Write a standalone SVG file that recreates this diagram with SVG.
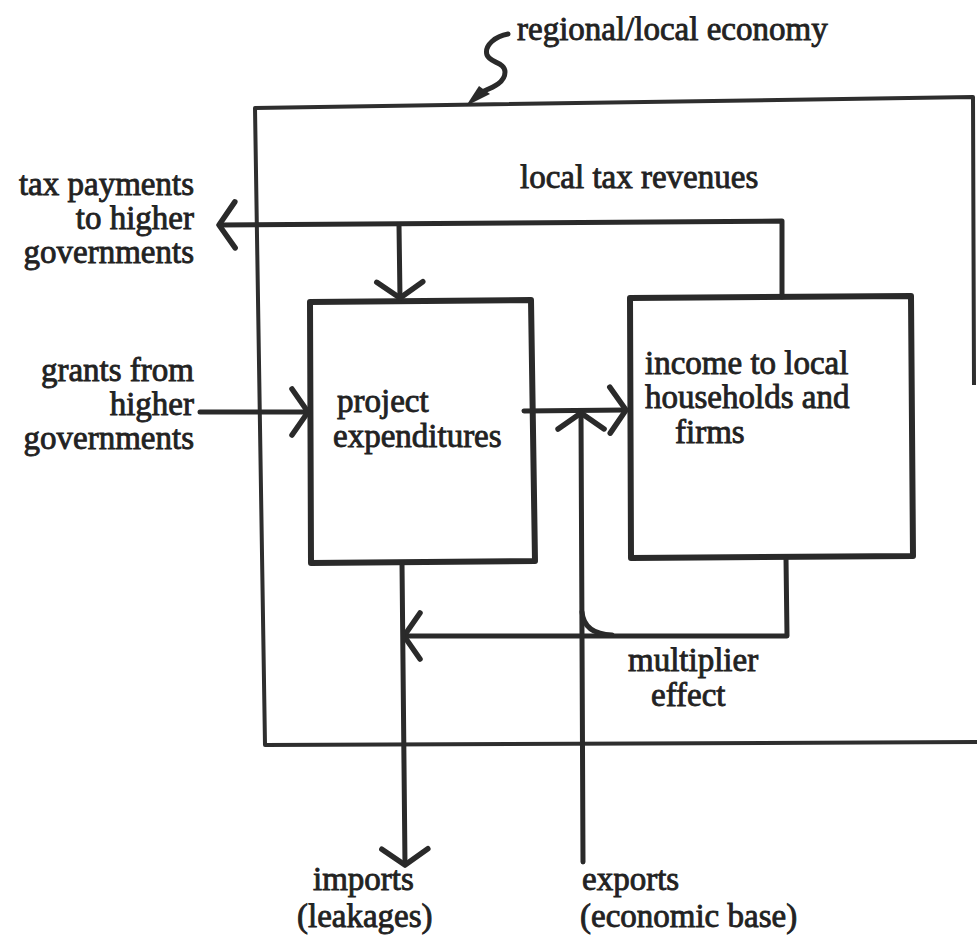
<svg xmlns="http://www.w3.org/2000/svg" width="977" height="947" viewBox="0 0 977 947">
  <style>
    .lbl { font-family: "Liberation Serif", "Times New Roman", serif; font-size: 33px; fill: #222222; stroke: #222222; stroke-width: 0.85px; }
    .end { text-anchor: end; }
    .box { fill: none; stroke: #2a2a2a; stroke-width: 6; stroke-linejoin: round; }
    .wire { fill: none; stroke: #2a2a2a; stroke-width: 5; stroke-linecap: round; stroke-linejoin: round; }
    .frame { fill: none; stroke: #2e2e2e; stroke-width: 4; stroke-linejoin: round; }
  </style>
  <defs>
    <marker id="chev" markerUnits="userSpaceOnUse" viewBox="-22 -28 26 56" refX="0" refY="0" markerWidth="26" markerHeight="56" orient="auto" overflow="visible">
      <path d="M-16,-23 L0,0 L-16,23" fill="none" stroke="#2a2a2a" stroke-width="5.5" stroke-linecap="round" stroke-linejoin="round"/>
    </marker>
  </defs>

  <rect width="977" height="947" fill="#ffffff"/>

  <!-- regional/local economy boundary -->
  <g id="economy">
    <path class="frame" d="M977,742 L265,745 L255,108 L973,97 L974,385"/>
    <path d="M466,106 L479,86 L490,94 Z" fill="#2a2a2a"/>
    <path class="wire" stroke-width="4" d="M508,34 C496,36 484,45 487,55 C490,63 505,62 505,72 C505,82 494,87 484,91"/>
    <text class="lbl" x="517" y="40">regional/local economy</text>
  </g>

  <!-- project expenditures -->
  <g id="project">
    <polygon class="box" points="310,302 531,300 535,561 311,563"/>
    <text class="lbl" x="337" y="412">project</text>
    <text class="lbl" x="333" y="447">expenditures</text>
  </g>

  <!-- income to local households and firms -->
  <g id="income">
    <polygon class="box" points="630,298 911,296 913,556 631,558"/>
    <text class="lbl" x="645" y="374">income to local</text>
    <text class="lbl" x="645" y="408">households and</text>
    <text class="lbl" x="675" y="443">firms</text>
  </g>

  <!-- external flows -->
  <g id="tax-payments">
    <text class="lbl end" x="194" y="195">tax payments</text>
    <text class="lbl end" x="194" y="229">to higher</text>
    <text class="lbl end" x="194" y="263">governments</text>
  </g>
  <g id="grants">
    <text class="lbl end" x="194" y="381">grants from</text>
    <text class="lbl end" x="194" y="415">higher</text>
    <text class="lbl end" x="194" y="449">governments</text>
  </g>
  <g id="imports">
    <text class="lbl" x="313" y="890">imports</text>
    <text class="lbl" x="297" y="927">(leakages)</text>
  </g>
  <g id="exports">
    <text class="lbl" x="582" y="890">exports</text>
    <text class="lbl" x="580" y="927">(economic base)</text>
  </g>
  <g id="labels">
    <text class="lbl" x="520" y="188">local tax revenues</text>
    <text class="lbl" x="628" y="671">multiplier</text>
    <text class="lbl" x="651" y="706">effect</text>
  </g>

  <!-- flows between the parts -->
  <g id="connectors">
    <path class="wire" d="M782,297 L782,221 L219,225" marker-end="url(#chev)"/>
    <path class="wire" d="M399,225 L400,298" marker-end="url(#chev)"/>
    <path class="wire" d="M200,412 L308,412" marker-end="url(#chev)"/>
    <path class="wire" d="M524,411 L626,410" marker-end="url(#chev)"/>
    <path class="wire" d="M583,862 L581,413" marker-end="url(#chev)"/>
    <path class="wire" d="M786,558 L787,636 L404,636" marker-end="url(#chev)"/>
    <path class="wire" d="M582,612 Q584,634 612,635"/>
    <path class="wire" d="M402,563 L405,865" marker-end="url(#chev)"/>
  </g>
</svg>
